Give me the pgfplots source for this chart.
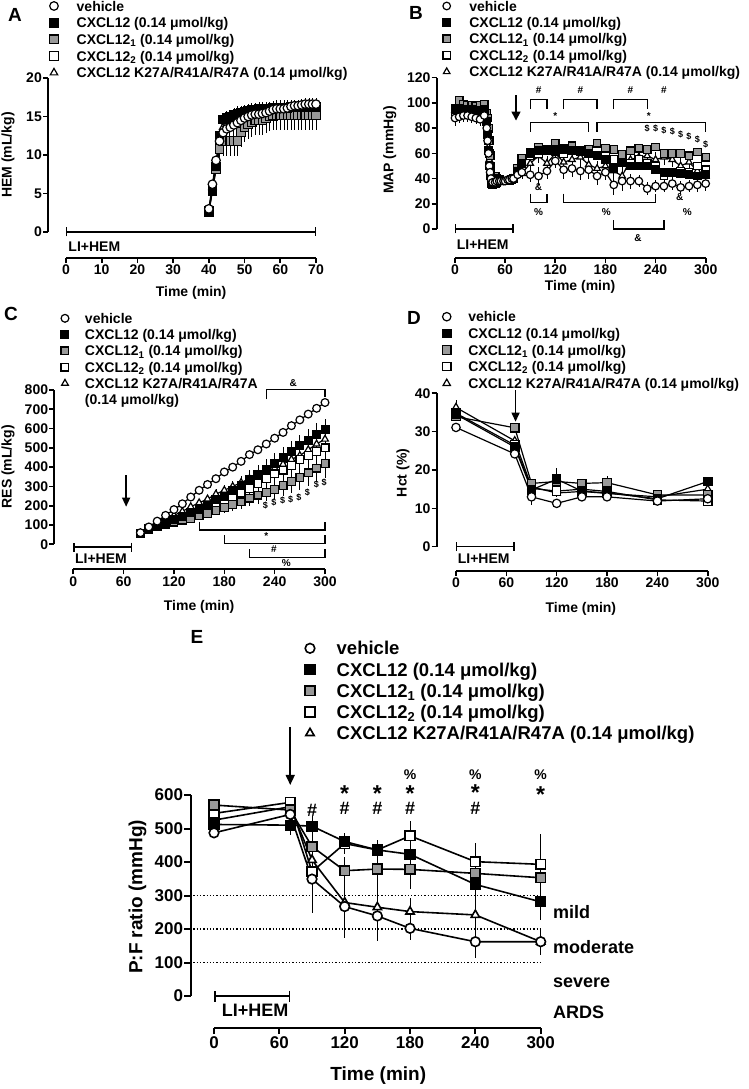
\documentclass[border=0pt]{standalone}
\usepackage{fontspec}
\setmainfont{Liberation Sans}
\usepackage{pgfplots}
\usepackage{pgfplotstable}
\pgfplotsset{compat=1.18}
\usetikzlibrary{arrows.meta}
\newcommand\fs[1]{\fontsize{#1}{#1}\selectfont\bfseries}
\newcommand\astk{\raisebox{0pt}[0.72em][-0.40em]{*}}
\definecolor{mygray}{gray}{0.6}

\pgfplotstableread{
t veh vehE cx cxE c1 c1E c2 c2E kr krE
40 3.0 0.3 2.8 0.3 2.7 0.3 2.6 0.3 2.9 0.3
41 6.2 0.4 5.5 0.4 5.4 0.4 5.3 0.4 5.8 0.4
42 9.3 0.5 8.5 0.5 8.2 0.5 8.2 0.5 8.8 0.5
43 11.8 0.6 12.5 0.7 10.8 1.0 11.0 0.9 12.0 0.8
44 12.9 0.8 14.6 0.9 11.8 1.9 12.0 1.5 13.6 1.0
45 13.4 0.8 14.8 0.9 11.8 1.9 12.3 1.5 14.0 1.0
46 13.6 0.8 15.0 0.9 11.8 1.9 12.5 1.5 14.3 1.0
47 13.9 0.8 15.2 0.9 11.8 1.9 12.8 1.5 14.5 1.0
48 14.2 0.8 15.4 0.9 11.8 1.9 13.0 1.5 14.7 1.0
49 14.5 0.8 15.5 0.9 13.0 1.9 13.5 1.5 14.9 1.0
50 14.8 0.8 15.6 0.9 13.6 1.9 14.0 1.5 15.1 1.0
51 15.0 0.8 15.7 0.9 14.0 1.9 14.3 1.5 15.3 1.0
52 15.2 0.8 15.8 0.9 14.3 1.9 14.5 1.5 15.5 1.0
53 15.3 0.8 15.9 0.9 14.5 1.9 14.7 1.5 15.6 1.0
54 15.3 0.8 16.0 0.9 14.5 1.9 14.8 1.5 15.7 1.0
55 15.4 0.8 16.0 0.9 14.5 1.9 15.0 1.5 15.8 1.0
56 15.5 0.8 16.0 0.9 14.8 1.9 15.2 1.5 15.9 1.0
57 15.7 0.8 16.0 0.9 15.0 1.9 15.3 1.5 15.9 1.0
58 15.9 0.8 16.1 0.9 15.1 1.9 15.4 1.5 16.0 1.0
59 16.0 0.8 16.1 0.9 15.2 1.9 15.4 1.5 16.0 1.0
60 16.0 0.8 16.1 0.9 15.2 1.9 15.4 1.5 16.0 1.0
61 16.0 0.8 16.1 0.9 15.2 1.9 15.4 1.5 16.1 1.0
62 16.1 0.8 16.1 0.9 15.2 1.9 15.4 1.5 16.1 1.0
63 16.3 0.8 16.2 0.9 15.2 1.9 15.4 1.5 16.1 1.0
64 16.4 0.8 16.2 0.9 15.2 1.9 15.4 1.5 16.2 1.0
65 16.4 0.8 16.2 0.9 15.2 1.9 15.4 1.5 16.2 1.0
66 16.5 0.8 16.2 0.9 15.2 1.9 15.4 1.5 16.2 1.0
67 16.6 0.8 16.2 0.9 15.2 1.9 15.4 1.5 16.2 1.0
68 16.6 0.8 16.2 0.9 15.2 1.9 15.4 1.5 16.2 1.0
69 16.6 0.8 16.2 0.9 15.2 1.9 15.4 1.5 16.2 1.0
70 16.6 0.8 16.2 0.9 15.2 1.9 15.4 1.5 16.2 1.0
}\tabA

\pgfplotstableread{
t veh vehE cx c1 c2 kr krE
0 88 6 95 96 93 94 4
5 89 5 96 102 97 95 4
10 90 5 95 99 96 94 4
15 90 5 95 98 95 94 4
20 89 5 95 98 96 96 4
25 88 5 94 97 95 95 4
30 87 5 94 98 95 93 4
35 90 5 95 99 96 97 4
38 80 0 85 92 88 88 0
39 70 0 75 88 80 78 0
40 60 0 62 80 70 65 0
41 50 0 50 70 60 55 0
42 45 0 42 58 50 47 0
43 40 0 36 45 42 40 0
45 37 0 35 40 37 36 0
48 37 0 36 42 38 37 0
50 38 0 37 40 38 38 0
53 38 0 38 39 38 38 0
55 38 0 38 38 38 38 0
58 38 0 38 38 38 38 0
60 38 0 38 38 38 38 0
63 39 0 38 38 38 38 0
65 39 0 38 38 38 39 0
68 40 0 39 39 39 40 0
70 40 0 40 40 40 40 0
75 43 2 46 48 45 44 2
80 45 4 52 56 52 44 4
90 43 6 60 61 58 52 6
100 42 7 62 65 60 58 6
110 46 6 62 63 62 52 6
120 54 6 63 68 62 60 6
130 47 7 63 64 60 53 6
140 48 7 62 66 62 55 6
150 46 7 62 62 61 57 6
160 47 7 60 63 62 51 6
170 42 7 58 68 58 48 6
180 45 6 55 64 60 50 6
190 35 8 48 63 55 46 7
200 38 8 53 59 56 42 8
210 38 6 50 62 52 55 6
220 38 5 50 64 55 57 6
230 32 5 50 63 52 58 6
240 34 5 47 65 50 55 6
250 34 5 45 60 42 57 6
260 36 5 45 60 45 55 6
270 33 5 44 60 46 50 6
280 34 5 43 58 45 53 6
290 35 6 42 61 50 46 6
300 36 6 43 57 47 42 6
}\tabB

\pgfplotstableread{
t veh cx cxE c1 c1E c2 c2E kr krE
80 60 55 5 55 5 55 5 58 5
90 90 80 8 75 6 78 8 85 8
100 120 100 10 90 8 95 10 110 10
110 150 115 12 105 10 110 12 130 12
120 180 130 15 115 12 125 14 150 14
130 210 145 18 125 14 140 16 170 16
140 245 165 22 135 16 155 20 195 18
150 280 180 26 150 18 170 25 215 20
160 310 200 30 160 20 190 30 235 22
170 340 230 34 175 24 205 35 260 25
180 375 250 38 190 28 225 40 280 28
190 400 280 42 205 32 245 45 300 30
200 430 305 45 220 36 270 50 320 32
210 465 335 48 240 40 290 55 340 35
220 490 360 50 255 44 315 60 360 38
230 520 390 52 270 48 340 65 375 40
240 550 420 55 285 52 365 70 395 42
250 580 450 56 305 56 385 75 415 45
260 615 480 58 325 60 410 80 440 48
270 645 510 58 345 64 440 85 460 50
280 675 540 60 370 68 460 90 490 52
290 705 570 60 395 72 480 95 520 55
300 735 595 55 420 76 500 100 545 58
}\tabC

\pgfplotstableread{
t veh vehE cx cxE c1 c1E c2 c2E kr krE
0 31.1 0 34.5 1.5 33.9 1 34.8 1 36.3 2
70 24.2 0 26.0 1 31.0 1 26.5 1 27.6 1
90 13.0 2 14.8 1 16.5 1 15.2 1 15.6 1
120 11.3 1 17.6 3 17.0 1 14.5 1 14.0 1
150 13.0 1 14.5 1 16.5 1 15.0 1 14.4 1
180 13.0 1 14.0 1 16.7 1.8 14.4 1 13.9 1
240 11.9 1 12.5 1 13.5 1 12.2 1 13.0 1
300 12.5 1 17.0 1 13.5 1 11.9 1 15.0 1
}\tabD

\pgfplotstableread{
t veh vehE cx cxE c1 c1E c2 c2E kr krE
0 487 10 512 10 570 15 545 10 525 10
70 542 15 510 30 555 15 578 10 565 10
90 349 100 507 30 446 50 371 30 406 40
120 267 95 461 25 374 40 455 30 279 40
150 239 75 436 30 379 80 436 30 265 40
180 202 35 423 40 378 60 478 45 252 40
240 162 50 333 60 366 50 401 55 242 60
300 162 40 281 55 353 40 393 90 162 40
}\tabE

\pgfplotsset{
  prism/.style={
    scale only axis, clip=false,
    axis x line*=bottom, axis y line*=left,
    axis line style={draw=none},
    tick align=outside,
    major tick length=5pt,
    tick style={black, line width=1.6pt},
    tick label style={font=\fs{14}},
    xticklabel style={inner sep=2pt},
    yticklabel style={inner sep=1pt},
    /pgf/number format/assume math mode=true,
    label style={font=\fs{14}},
    every axis plot/.append style={line width=1.2pt},
    mark size=4pt,
    legend cell align=left,
    reverse legend,
    legend style={draw=none, fill=none, inner sep=0pt, outer sep=0pt, anchor=north west,
       nodes={inner sep=0pt, text height=10.08pt, text depth=0pt, font=\fs{14}},
       /tikz/column sep=0pt},
  },
  legimg/.style n args={2}{legend image code/.code={\draw[##1] plot coordinates {(0pt,0pt)};\path[draw=none,fill=none] (-#2,-#2) rectangle (#1,#2);}},
  sveh/.style={black, mark=*, mark options={fill=white, draw=black, solid}},
  scx/.style={black, mark=square*, mark options={fill=black, draw=black, solid}},
  sc1/.style={black, mark=square*, mark options={fill=mygray, draw=black, solid}},
  sc2/.style={black, mark=square*, mark options={fill=white, draw=black, solid}},
  skr/.style={black, mark=triangle*, mark options={fill=white, draw=black, solid}},
  eb/.style={error bars/y dir=both, error bars/y explicit, error bars/error mark=none,
     error bars/error bar style={line width=0.7pt, black, solid}},
}

\begin{document}
\bfseries
\begin{tikzpicture}
\path[use as bounding box] (0,0) rectangle (749pt,1089pt);

% panel letters
\node[font=\fs{19}] at (15pt,1074pt) {A};
\node[font=\fs{19}] at (416pt,1076pt) {B};
\node[font=\fs{19}] at (11pt,775pt) {C};
\node[font=\fs{19}] at (414pt,771pt) {D};
\node[font=\fs{19}] at (197pt,452pt) {E};

%%%%%%%%%%%%%%%% A
\begin{axis}[prism, at={(48pt,831pt)}, anchor=south west, width=268pt, height=180pt,
  xmin=-5.04, xmax=70, ymin=-3.377, ymax=20,
  xtick={0,10,...,70}, ytick={0,5,...,20},
  xlabel={Time (min)}, ylabel={HEM (mL/kg)},
  xlabel style={at={(axis description cs:0.534,-0.194)}, anchor=center},
  ylabel style={at={(axis description cs:-0.149,0.572)}, anchor=center},
  legimg={22.7pt}{5pt},
  legend style={at={(axis description cs:0.0037,1.428)}, row sep=6.6pt},
  mark size=4.3pt]
\addplot[skr, eb] table[x=t,y=kr,y error=krE]{\tabA}; \addlegendentry{CXCL12 K27A/R41A/R47A (0.14 μmol/kg)}
\addplot[sc2, eb] table[x=t,y=c2,y error=c2E]{\tabA}; \addlegendentry{CXCL12\textsubscript{2} (0.14 μmol/kg)}
\addplot[sc1, eb] table[x=t,y=c1,y error=c1E]{\tabA}; \addlegendentry{CXCL12\textsubscript{1} (0.14 μmol/kg)}
\addplot[scx, eb] table[x=t,y=cx,y error=cxE]{\tabA}; \addlegendentry{CXCL12 (0.14 μmol/kg)}
\addplot[sveh, eb] table[x=t,y=veh,y error=vehE]{\tabA}; \addlegendentry{vehicle}
\draw[line width=1.8pt] (axis cs:-5.04,0) -- (axis cs:-5.04,20);
\draw[line width=1.8pt] (axis cs:0,-3.377) -- (axis cs:70,-3.377);
\draw[line width=1.4pt, {Bar[width=9pt]}-{Bar[width=9pt]}] (axis cs:0,0) -- (axis cs:70,0);
\node[anchor=west, font=\fs{14}] at (axis cs:-0.3,-1.95) {LI+HEM};
\end{axis}

%%%%%%%%%%%%%%%% B
\begin{axis}[prism, at={(436.7pt,831.3pt)}, anchor=south west, width=269pt, height=180pt,
  xmin=-21.9, xmax=300, ymin=-22.76, ymax=120,
  xtick={0,60,...,300}, ytick={0,20,...,120},
  xlabel={Time (min)}, ylabel={MAP (mmHg)},
  xlabel style={at={(axis description cs:0.533,-0.163)}, anchor=center},
  ylabel style={at={(axis description cs:-0.174,0.598)}, anchor=center},
  legimg={22.6pt}{5pt},
  legend style={at={(axis description cs:0.0186,1.4263)}, row sep=6.35pt},
  mark size=3.8pt]
\addplot[skr, eb] table[x=t,y=kr,y error=krE]{\tabB}; \addlegendentry{CXCL12 K27A/R41A/R47A (0.14 μmol/kg)}
\addplot[sc2] table[x=t,y=c2]{\tabB}; \addlegendentry{CXCL12\textsubscript{2} (0.14 μmol/kg)}
\addplot[sc1] table[x=t,y=c1]{\tabB}; \addlegendentry{CXCL12\textsubscript{1} (0.14 μmol/kg)}
\addplot[scx] table[x=t,y=cx]{\tabB}; \addlegendentry{CXCL12 (0.14 μmol/kg)}
\addplot[sveh, eb] table[x=t,y=veh,y error=vehE]{\tabB}; \addlegendentry{vehicle}
\draw[line width=1.8pt] (axis cs:-21.9,0) -- (axis cs:-21.9,120);
\draw[line width=1.8pt] (axis cs:0,-22.76) -- (axis cs:300,-22.76);
\draw[line width=1.4pt, {Bar[width=9pt]}-{Bar[width=9pt]}] (axis cs:0,0) -- (axis cs:70,0);
\node[anchor=west, font=\fs{14}] at (axis cs:-2,-12.7) {LI+HEM};
\draw[line width=1.4pt, -{Triangle[length=9pt,width=9pt]}] (axis cs:73,106) -- (axis cs:73,86);
\begin{scope}[line width=1.2pt]
\draw (axis cs:90,95) |- (axis cs:110,103) -- (axis cs:110,95);
\draw (axis cs:130,95) |- (axis cs:170,103) -- (axis cs:170,95);
\draw (axis cs:190,95) |- (axis cs:230,103) -- (axis cs:230,95);
\draw (axis cs:90,77) |- (axis cs:160,84.6) -- (axis cs:160,77);
\draw (axis cs:170,77) |- (axis cs:300,84.6) -- (axis cs:300,77);
\draw (axis cs:90,28) |- (axis cs:110,21) -- (axis cs:110,28);
\draw (axis cs:130,28) |- (axis cs:240,21) -- (axis cs:240,28);
\draw (axis cs:190,7) |- (axis cs:250,0) -- (axis cs:250,7);
\end{scope}
\begin{scope}[every node/.style={font=\fs{10}}]
\node at (axis cs:100,110) {\#};
\node at (axis cs:150,110) {\#};
\node at (axis cs:210,110) {\#};
\node at (axis cs:250,110) {\#};
\node[inner sep=0pt] at (axis cs:120,90) {\astk};
\node[inner sep=0pt] at (axis cs:232,90) {\astk};
\node at (axis cs:100,13.7) {\%};
\node at (axis cs:181,13.7) {\%};
\node at (axis cs:278,13.7) {\%};
\node at (axis cs:100,33) {\&};
\node at (axis cs:269,25.6) {\&};
\node at (axis cs:219,-7.4) {\&};
\end{scope}
\begin{scope}[every node/.style={font=\fs{9}, inner sep=0pt}]
\node at (axis cs:230,80) {\$};
\node at (axis cs:240,80) {\$};
\node at (axis cs:250,78) {\$};
\node at (axis cs:260,77) {\$};
\node at (axis cs:270,75) {\$};
\node at (axis cs:280,73) {\$};
\node at (axis cs:290,71) {\$};
\node at (axis cs:300,67) {\$};
\end{scope}
\end{axis}

%%%%%%%%%%%%%%%% C
\begin{axis}[prism, at={(54.3pt,519.7pt)}, anchor=south west, width=270.7pt, height=179.3pt,
  xmin=-22.6, xmax=300, ymin=-129.6, ymax=800,
  xtick={0,60,...,300}, ytick={0,100,...,800},
  xlabel={Time (min)}, ylabel={RES (mL/kg)},
  xlabel style={at={(axis description cs:0.535,-0.21)}, anchor=center},
  ylabel style={at={(axis description cs:-0.171,0.572)}, anchor=center},
  legimg={20pt}{5pt},
  legend style={at={(axis description cs:0.021,1.4278)}, row sep=6.17pt},
  mark size=3.9pt]
\addplot[skr, eb] table[x=t,y=kr,y error=krE]{\tabC}; \addlegendentry{\rlap{\raisebox{-16pt}[0pt][0pt]{(0.14 μmol/kg)}}CXCL12 K27A/R41A/R47A}
\addplot[sc2, eb] table[x=t,y=c2,y error=c2E]{\tabC}; \addlegendentry{CXCL12\textsubscript{2} (0.14 μmol/kg)}
\addplot[sc1, eb] table[x=t,y=c1,y error=c1E]{\tabC}; \addlegendentry{CXCL12\textsubscript{1} (0.14 μmol/kg)}
\addplot[scx, eb] table[x=t,y=cx,y error=cxE]{\tabC}; \addlegendentry{CXCL12 (0.14 μmol/kg)}
\addplot[sveh] table[x=t,y=veh]{\tabC}; \addlegendentry{vehicle}
\draw[line width=1.8pt] (axis cs:-22.6,0) -- (axis cs:-22.6,800);
\draw[line width=1.8pt] (axis cs:0,-129.6) -- (axis cs:300,-129.6);
\draw[line width=1.4pt, {Bar[width=9pt]}-{Bar[width=9pt]}] (axis cs:0,-15) -- (axis cs:70,-15);
\node[anchor=west, font=\fs{14}] at (axis cs:-2,-72.6) {LI+HEM};
\draw[line width=1.4pt, -{Triangle[length=9pt,width=8pt]}] (axis cs:63,359) -- (axis cs:63,195);
\begin{scope}[line width=1.2pt]
\draw (axis cs:230,751) |- (axis cs:300,803) -- (axis cs:300,765);
\draw (axis cs:150,117) |- (axis cs:300,74) -- (axis cs:300,117);
\draw (axis cs:180,48) |- (axis cs:300,5) -- (axis cs:300,48);
\draw (axis cs:210,-26) |- (axis cs:300,-69) -- (axis cs:300,-26);
\end{scope}
\begin{scope}[every node/.style={font=\fs{10}}]
\node at (axis cs:262,838) {\&};
\node[inner sep=0pt] at (axis cs:230,43) {\astk};
\node at (axis cs:239,-26) {\#};
\node at (axis cs:254,-98) {\%};
\end{scope}
\begin{scope}[every node/.style={font=\fs{9}, inner sep=0pt}]
\node at (axis cs:229,199) {\$};
\node at (axis cs:239,218) {\$};
\node at (axis cs:249.5,225) {\$};
\node at (axis cs:259,233) {\$};
\node at (axis cs:269,244) {\$};
\node at (axis cs:279,268) {\$};
\node at (axis cs:289.7,311) {\$};
\node at (axis cs:299,320) {\$};
\end{scope}
\end{axis}

%%%%%%%%%%%%%%%% D
\begin{axis}[prism, at={(436.7pt,518.3pt)}, anchor=south west, width=271pt, height=177.4pt,
  xmin=-23, xmax=300, ymin=-6.26, ymax=40,
  xtick={0,60,...,300}, ytick={0,10,...,40},
  xlabel={Time (min)}, ylabel={Hct (\%)},
  xlabel style={at={(axis description cs:0.532,-0.216)}, anchor=center},
  ylabel style={at={(axis description cs:-0.124,0.551)}, anchor=center},
  legimg={21.6pt}{5pt},
  legend style={at={(axis description cs:0.0186,1.46)}, row sep=6.57pt},
  mark size=4.2pt]
\addplot[skr, eb] table[x=t,y=kr,y error=krE]{\tabD}; \addlegendentry{CXCL12 K27A/R41A/R47A (0.14 μmol/kg)}
\addplot[sc2, eb] table[x=t,y=c2,y error=c2E]{\tabD}; \addlegendentry{CXCL12\textsubscript{2} (0.14 μmol/kg)}
\addplot[sc1, eb] table[x=t,y=c1,y error=c1E]{\tabD}; \addlegendentry{CXCL12\textsubscript{1} (0.14 μmol/kg)}
\addplot[scx, eb] table[x=t,y=cx,y error=cxE]{\tabD}; \addlegendentry{CXCL12 (0.14 μmol/kg)}
\addplot[sveh, eb] table[x=t,y=veh,y error=vehE]{\tabD}; \addlegendentry{vehicle}
\draw[line width=1.8pt] (axis cs:-23,0) -- (axis cs:-23,40);
\draw[line width=1.8pt] (axis cs:0,-6.26) -- (axis cs:300,-6.26);
\draw[line width=1.4pt, {Bar[width=9pt]}-{Bar[width=9pt]}] (axis cs:0,0) -- (axis cs:70,0);
\node[anchor=west, font=\fs{14}] at (axis cs:-2,-3.0) {LI+HEM};
\draw[line width=1.4pt, -{Triangle[length=9pt,width=8pt]}] (axis cs:71,40.8) -- (axis cs:71,32.6);
\end{axis}

%%%%%%%%%%%%%%%% E
\begin{axis}[prism, at={(190.7pt,61.3pt)}, anchor=south west, width=350pt, height=232.7pt,
  xmin=-21.4, xmax=300, ymin=-94.6, ymax=600,
  xtick={0,60,...,300}, ytick={0,100,...,600},
  major tick length=6.5pt,
  tick style={black, line width=2pt},
  tick label style={font=\fs{17}},
  label style={font=\fs{19}},
  every axis plot/.append style={line width=1.6pt},
  xlabel={Time (min)}, ylabel={P:F ratio (mmHg)},
  xlabel style={at={(axis description cs:0.536,-0.2076)}, anchor=center},
  ylabel style={at={(axis description cs:-0.152,0.562)}, anchor=center},
  legimg={26.7pt}{6pt},
  legend style={at={(axis description cs:0.3237,1.659)}, row sep=7.9pt,
    nodes={inner sep=0pt, text height=13.3pt, text depth=0pt, font=\fs{18.5}}},
  mark size=4.8pt]
\draw[line width=1.3pt, dotted] (axis cs:-19,300) -- (axis cs:300,300);
\draw[line width=1.3pt, dotted] (axis cs:-19,200) -- (axis cs:300,200);
\draw[line width=1.3pt, dotted] (axis cs:-19,100) -- (axis cs:300,100);
\addplot[skr, eb] table[x=t,y=kr,y error=krE]{\tabE}; \addlegendentry{CXCL12 K27A/R41A/R47A (0.14 μmol/kg)}
\addplot[sc2, eb] table[x=t,y=c2,y error=c2E]{\tabE}; \addlegendentry{CXCL12\textsubscript{2} (0.14 μmol/kg)}
\addplot[sc1, eb] table[x=t,y=c1,y error=c1E]{\tabE}; \addlegendentry{CXCL12\textsubscript{1} (0.14 μmol/kg)}
\addplot[scx, eb] table[x=t,y=cx,y error=cxE]{\tabE}; \addlegendentry{CXCL12 (0.14 μmol/kg)}
\addplot[sveh, eb] table[x=t,y=veh,y error=vehE]{\tabE}; \addlegendentry{vehicle}
\draw[line width=2.2pt] (axis cs:-21.4,0) -- (axis cs:-21.4,600);
\draw[line width=2.2pt] (axis cs:0,-94.6) -- (axis cs:300,-94.6);
\draw[line width=1.6pt, {Bar[width=11pt]}-{Bar[width=11pt]}] (axis cs:0,0) -- (axis cs:70,0);
\node[anchor=west, font=\fs{18}] at (axis cs:4,-43.9) {LI+HEM};
\draw[line width=1.6pt, -{Triangle[length=10pt,width=9pt]}] (axis cs:70,803) -- (axis cs:70,630);
\begin{scope}[every node/.style={font=\fs{18}, inner sep=0pt}]
\node at (axis cs:90,555) {\#};
\node at (axis cs:120,560) {\#};
\node at (axis cs:150,560) {\#};
\node at (axis cs:180,560) {\#};
\node at (axis cs:240,560) {\#};
\node[font=\fs{23}] at (axis cs:120,606) {\astk};
\node[font=\fs{23}] at (axis cs:150,606) {\astk};
\node[font=\fs{23}] at (axis cs:180,606) {\astk};
\node[font=\fs{23}] at (axis cs:240,607) {\astk};
\node[font=\fs{23}] at (axis cs:300,603) {\astk};
\node[font=\fs{14}] at (axis cs:180,660) {\%};
\node[font=\fs{14}] at (axis cs:240,660) {\%};
\node[font=\fs{14}] at (axis cs:300,660) {\%};
\node[anchor=west] at (axis cs:311.3,251.6) {mild};
\node[anchor=west] at (axis cs:311.3,147) {moderate};
\node[anchor=west] at (axis cs:311.3,38.8) {severe};
\node[anchor=west] at (axis cs:311.3,-47.8) {ARDS};
\end{scope}
\end{axis}
\end{tikzpicture}
\end{document}
